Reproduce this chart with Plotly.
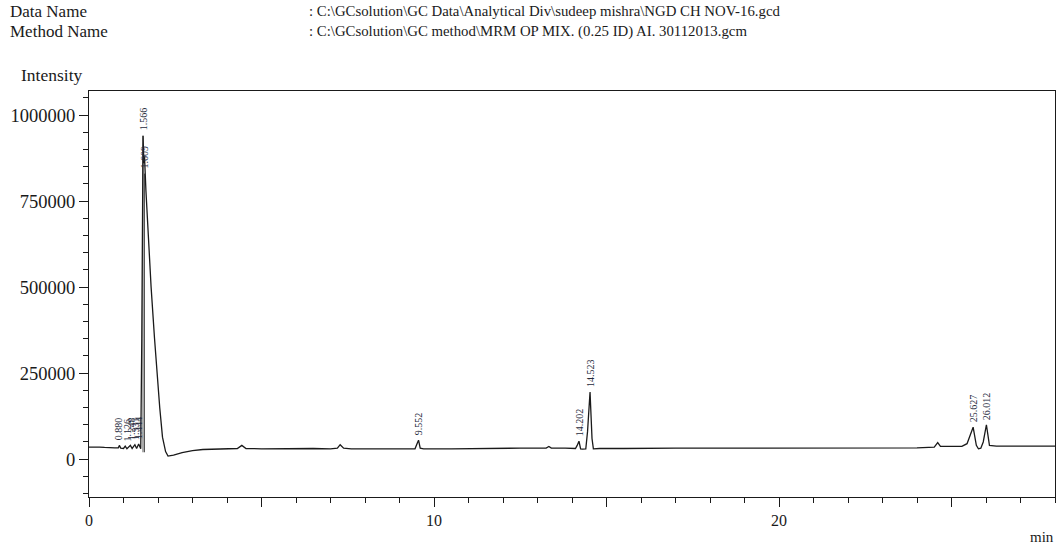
import plotly.graph_objects as go

# ---- data ----
time_min = [0.0, 0.15, 0.3, 0.45, 0.6, 0.75, 0.85, 0.88, 0.92, 1.0, 1.05, 1.1, 1.2, 1.25, 1.33, 1.38, 1.44, 1.48,
            1.5, 1.53, 1.566, 1.59, 1.609, 1.65, 1.72, 1.8, 1.9, 1.96, 2.05, 2.13, 2.22, 2.29, 2.45, 2.7, 3.0,
            3.3, 3.8, 4.3, 4.43, 4.55, 5.0, 5.5, 6.0, 6.5, 7.0, 7.2, 7.28, 7.38, 7.6, 8.0, 8.5, 9.0, 9.45, 9.52,
            9.552, 9.6, 9.7, 10.5, 11.0, 11.5, 12.0, 12.5, 13.0, 13.25, 13.33, 13.4, 13.8, 14.1, 14.15, 14.202,
            14.25, 14.3, 14.4, 14.45, 14.523, 14.58, 14.62, 14.8, 15.5, 16.0, 17.0, 18.0, 19.0, 20.0, 21.0,
            22.0, 23.0, 24.0, 24.5, 24.6, 24.68, 25.0, 25.3, 25.45, 25.627, 25.72, 25.78, 25.85, 25.92, 26.012,
            26.1, 26.3, 26.8, 27.3, 28.0]
intensity = [35000, 36000, 35000, 34000, 34500, 33000, 33000, 40000, 32000, 31000, 38000, 30000, 40000, 31000,
             42000, 31000, 44000, 30000,
             30000, 350000, 940000, 860000, 880000, 780000, 640000, 500000, 350000, 259000, 150000, 64000, 22000,
             9000, 12000, 19000, 25000,
             28000, 30000, 31000, 40000, 31000, 30000, 31000, 30000, 31000, 30000, 32000, 42000, 32000, 30000,
             30000, 31000, 30000, 30000, 48000,
             55000, 32000, 30000, 30000, 31000, 31000, 31000, 32000, 32000, 32000, 37000, 32000, 32000, 31000,
             40000, 52000,
             30000, 29000, 30000, 80000, 195000, 60000, 30000, 31000, 31000, 32000, 32000, 32000, 32000, 33000,
             33000,
             33000, 33000, 33000, 35000, 48000, 37000, 36000, 37000, 45000, 93000, 40000, 30000, 32000, 50000,
             100000,
             40000, 38000, 38000, 39000, 38000]

peak_times = [0.880, 1.126, 1.248, 1.331, 1.444, 1.566, 1.609, 9.552, 14.202, 14.523, 25.627, 26.012]
peak_heights = [40000, 38000, 40000, 42000, 44000, 940000, 830000, 55000, 52000, 195000, 93000, 100000]
peak_labels = ["0.880", "1.126", "1.248", "1.331", "1.444", "1.566", "1.609", "9.552", "14.202", "14.523",
               "25.627", "26.012"]

drop_times = [1.566, 1.609]
drop_tops = [940000, 830000]
drop_bottoms = [20000, 20000]

x_tick_vals = [0, 5, 10, 15, 20, 25]
x_tick_text = ["0", "", "10", "", "20", ""]
y_tick_vals = [0, 250000, 500000, 750000, 1000000]
y_tick_text = ["0", "250000", "500000", "750000", "1000000"]

header_keys = ["Data Name", "Method Name"]
header_vals = [": C:\\GCsolution\\GC Data\\Analytical Div\\sudeep mishra\\NGD CH NOV-16.gcd",
               ": C:\\GCsolution\\GC method\\MRM OP MIX. (0.25 ID) AI. 30112013.gcm"]

FONT = "Liberation Serif"
INK = "#1a1a1a"

L, R, T, B = 89, 2, 91, 50
W, H = 1057, 547
pw, ph = W - L - R, H - T - B


def px(x):
    return (x - L) / pw


def py(y):
    return (H - y - B) / ph


fig = go.Figure()

# drop lines for the main peak pair
dx, dy = [], []
for t, top, bot in zip(drop_times, drop_tops, drop_bottoms):
    dx += [t, t, None]
    dy += [bot, top, None]
fig.add_trace(go.Scatter(x=dx, y=dy, mode="lines", line=dict(color="#555555", width=1),
                         hoverinfo="skip", showlegend=False))

fig.add_trace(go.Scatter(x=time_min, y=intensity, mode="lines",
                         line=dict(color=INK, width=1.3), showlegend=False))

for t, h, lab in zip(peak_times, peak_heights, peak_labels):
    fig.add_annotation(x=t, y=h, text=lab, textangle=-90, showarrow=False,
                       xanchor="center", yanchor="bottom", yshift=3,
                       font=dict(family=FONT, size=10, color="#262a3c"))

for i, (k, v) in enumerate(zip(header_keys, header_vals)):
    yy = 11 + 20.5 * i
    fig.add_annotation(x=px(8), y=py(yy), xref="paper", yref="paper", text=k, showarrow=False,
                       xanchor="left", yanchor="middle", font=dict(family=FONT, size=17, color=INK))
    fig.add_annotation(x=px(307), y=py(yy), xref="paper", yref="paper", text=v, showarrow=False,
                       xanchor="left", yanchor="middle", font=dict(family=FONT, size=14.8, color=INK))

fig.add_annotation(x=px(19), y=py(75), xref="paper", yref="paper", text="Intensity", showarrow=False,
                   xanchor="left", yanchor="middle", font=dict(family=FONT, size=17.5, color=INK))
fig.add_annotation(x=px(1056), y=py(537), xref="paper", yref="paper", text="min", showarrow=False,
                   xanchor="right", yanchor="middle", font=dict(family=FONT, size=15, color=INK))

fig.update_layout(
    width=W, height=H,
    margin=dict(l=L, r=R, t=T, b=B),
    paper_bgcolor="white", plot_bgcolor="white",
    font=dict(family=FONT, size=16, color=INK),
    xaxis=dict(range=[0, 28], tickvals=x_tick_vals, ticktext=x_tick_text, ticks="outside", ticklen=9,
               tickwidth=1, tickcolor=INK, showline=True, linecolor=INK, linewidth=1.2, mirror=True,
               showgrid=False, zeroline=False, tickfont=dict(family=FONT, size=16, color=INK),
               minor=dict(dtick=1, ticks="outside", ticklen=5, tickcolor=INK, showgrid=False)),
    yaxis=dict(range=[-110000, 1070000], tickvals=y_tick_vals, ticktext=y_tick_text, ticks="outside",
               ticklen=9, tickwidth=1, tickcolor=INK, showline=True, linecolor=INK, linewidth=1.2,
               mirror=True, showgrid=False, zeroline=False, tickfont=dict(family=FONT, size=18.5, color=INK),
               minor=dict(dtick=50000, ticks="outside", ticklen=5, tickcolor=INK, showgrid=False)),
)

fig.write_html("out.html")
